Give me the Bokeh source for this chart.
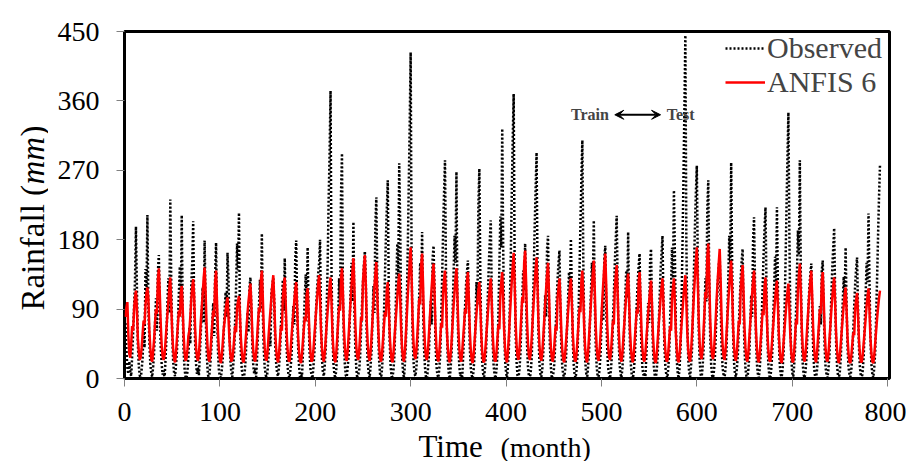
import math
from bokeh.plotting import figure
from bokeh.layouts import row, column
from bokeh.core.properties import value
from bokeh.models import (Range1d, FixedTicker, Label, Arrow, VeeHead, Legend, LegendItem)
from bokeh.embed import file_html
from bokeh.resources import INLINE

# ---------------- data (monthly rainfall, mm) ----------------
observed_mm = [
    72, 38, 14, 6, 22, 9, 3, 28, 58, 92, 126, 197,
    118, 45, 16, 4, 0, 12, 27, 63, 40, 142, 105, 212,
    96, 52, 20, 8, 2, 15, 33, 70, 104, 62, 138, 160,
    90, 41, 18, 5, 10, 0, 24, 55, 97, 130, 85, 232,
    125, 60, 22, 7, 3, 18, 36, 74, 110, 145, 98, 212,
    88, 35, 12, 2, 0, 9, 29, 66, 45, 120, 150, 204,
    102, 48, 19, 6, 14, 4, 31, 60, 85, 118, 72, 179,
    95, 40, 13, 0, 5, 20, 38, 72, 98, 55, 133, 176,
    84, 36, 10, 3, 1, 11, 26, 58, 90, 112, 80, 163,
    130, 62, 24, 8, 2, 17, 35, 76, 120, 175, 140, 215,
    80, 33, 11, 4, 0, 8, 25, 54, 86, 60, 118, 131,
    92, 44, 17, 6, 13, 2, 28, 62, 95, 128, 90, 188,
    85, 38, 14, 5, 0, 10, 30, 60, 42, 110, 122, 130,
    99, 45, 20, 7, 3, 16, 34, 68, 100, 128, 88, 156,
    87, 39, 15, 4, 1, 12, 27, 63, 94, 70, 155, 179,
    93, 42, 16, 2, 8, 0, 30, 70, 108, 135, 96, 170,
    80, 35, 12, 5, 0, 14, 32, 65, 95, 118, 135, 149,
    180, 75, 25, 8, 3, 18, 40, 90, 150, 230, 290, 373,
    140, 60, 20, 6, 0, 12, 35, 80, 130, 95, 240, 292,
    110, 50, 18, 4, 2, 15, 30, 70, 110, 150, 100, 203,
    90, 40, 14, 0, 5, 10, 28, 62, 96, 125, 148, 165,
    125, 55, 20, 7, 1, 16, 36, 78, 120, 85, 200, 235,
    130, 58, 22, 5, 0, 13, 34, 82, 130, 180, 220, 257,
    120, 50, 16, 3, 2, 11, 30, 75, 125, 175, 130, 279,
    200, 85, 28, 9, 0, 20, 45, 100, 170, 250, 330, 423,
    145, 60, 22, 6, 3, 14, 33, 72, 110, 150, 120, 190,
    92, 40, 15, 2, 0, 10, 28, 66, 100, 70, 155, 172,
    115, 48, 17, 5, 1, 12, 31, 78, 130, 190, 240, 283,
    140, 62, 23, 7, 0, 15, 36, 85, 135, 185, 150, 268,
    100, 44, 16, 3, 6, 0, 27, 60, 92, 120, 138, 153,
    98, 41, 14, 4, 0, 11, 30, 76, 125, 95, 225, 272,
    135, 58, 21, 6, 2, 14, 34, 72, 110, 150, 180, 205,
    110, 46, 16, 5, 0, 12, 32, 85, 145, 210, 170, 324,
    170, 70, 24, 8, 1, 17, 40, 95, 160, 240, 310, 369,
    150, 62, 22, 4, 0, 11, 30, 68, 105, 140, 115, 175,
    105, 44, 15, 3, 0, 10, 29, 80, 135, 195, 245, 293,
    140, 60, 20, 6, 2, 13, 32, 70, 108, 80, 168, 185,
    95, 42, 15, 0, 4, 9, 28, 64, 98, 128, 150, 166,
    90, 40, 14, 5, 0, 12, 30, 67, 102, 138, 110, 181,
    110, 48, 17, 4, 1, 13, 33, 84, 140, 200, 260, 309,
    150, 64, 23, 7, 0, 15, 34, 74, 112, 150, 125, 205,
    100, 44, 16, 3, 2, 11, 30, 66, 100, 75, 155, 172,
    92, 40, 14, 5, 0, 12, 31, 70, 108, 148, 180, 211,
    120, 52, 19, 6, 1, 14, 33, 71, 106, 140, 105, 190,
    96, 42, 15, 2, 0, 10, 28, 63, 96, 125, 145, 162,
    85, 38, 13, 4, 7, 0, 27, 64, 98, 72, 150, 168,
    92, 40, 15, 3, 0, 11, 30, 68, 104, 140, 162, 185,
    100, 44, 16, 5, 1, 12, 32, 76, 120, 170, 130, 244,
    160, 68, 23, 7, 0, 16, 42, 100, 175, 260, 350, 445,
    180, 75, 26, 8, 2, 17, 38, 88, 140, 195, 240, 276,
    150, 65, 22, 6, 0, 14, 35, 82, 130, 100, 220, 257,
    130, 55, 19, 4, 1, 10, 28, 62, 96, 125, 145, 160,
    95, 40, 14, 5, 0, 12, 32, 80, 130, 185, 150, 280,
    150, 62, 21, 6, 2, 13, 30, 66, 100, 130, 152, 168,
    90, 38, 13, 3, 0, 11, 29, 70, 108, 80, 180, 209,
    125, 54, 19, 6, 1, 14, 34, 76, 118, 160, 195, 222,
    120, 52, 18, 4, 0, 12, 31, 74, 115, 158, 120, 222,
    118, 50, 17, 5, 2, 13, 34, 88, 150, 220, 285, 345,
    190, 80, 27, 8, 0, 16, 38, 86, 138, 192, 160, 283,
    140, 58, 20, 5, 1, 10, 27, 60, 92, 118, 135, 149,
    88, 38, 13, 3, 0, 11, 28, 62, 94, 70, 140, 153,
    92, 40, 14, 5, 1, 12, 30, 68, 105, 142, 170, 195,
    110, 48, 17, 4, 0, 10, 28, 65, 100, 132, 105, 170,
    95, 42, 15, 6, 2, 12, 29, 62, 95, 122, 142, 157,
    90, 40, 14, 3, 0, 11, 30, 70, 110, 150, 125, 214,
    125, 54, 19, 6, 1, 14, 34, 80, 130, 185, 235, 276,
]

anfis6_mm = [
    80, 92, 99, 58, 32, 27, 44, 68, 62, 88, 105, 114,
    90, 52, 35, 24, 28, 40, 58, 75, 70, 95, 110, 118,
    105, 64, 40, 26, 22, 35, 50, 72, 90, 84, 128, 143,
    110, 70, 42, 28, 24, 30, 48, 66, 84, 100, 118, 131,
    95, 60, 38, 25, 21, 33, 52, 70, 88, 80, 110, 120,
    92, 56, 34, 23, 26, 38, 55, 62, 80, 102, 118, 129,
    108, 66, 40, 27, 23, 32, 50, 74, 92, 110, 130, 144,
    112, 70, 42, 26, 22, 34, 52, 70, 88, 80, 125, 140,
    98, 60, 36, 24, 20, 30, 46, 64, 75, 88, 98, 105,
    80, 50, 32, 22, 25, 36, 52, 68, 60, 92, 100, 107,
    85, 52, 33, 23, 21, 34, 50, 66, 85, 100, 112, 123,
    95, 58, 36, 25, 22, 33, 52, 74, 92, 86, 128, 140,
    105, 64, 40, 26, 23, 35, 54, 72, 88, 105, 122, 134,
    100, 60, 38, 25, 21, 32, 50, 68, 62, 104, 120, 131,
    98, 58, 36, 24, 22, 34, 52, 70, 84, 100, 115, 125,
    92, 55, 34, 23, 20, 31, 48, 64, 80, 74, 108, 117,
    88, 54, 33, 22, 24, 36, 54, 72, 90, 106, 122, 134,
    104, 62, 39, 26, 22, 34, 52, 70, 88, 104, 120, 131,
    100, 60, 37, 25, 21, 33, 52, 74, 94, 88, 130, 143,
    110, 66, 40, 27, 23, 36, 56, 78, 100, 120, 140, 156,
    118, 70, 42, 28, 24, 35, 55, 80, 75, 125, 145, 160,
    120, 72, 44, 28, 23, 34, 54, 76, 98, 118, 136, 151,
    110, 66, 40, 26, 22, 32, 50, 68, 86, 80, 115, 125,
    95, 58, 36, 24, 21, 33, 52, 70, 88, 106, 124, 136,
    105, 64, 39, 26, 22, 36, 58, 82, 108, 130, 152, 170,
    130, 78, 46, 30, 25, 36, 56, 80, 104, 96, 146, 162,
    122, 72, 43, 28, 24, 34, 54, 76, 98, 118, 136, 149,
    112, 68, 41, 27, 22, 33, 52, 72, 66, 110, 128, 140,
    105, 63, 38, 25, 21, 32, 50, 72, 94, 112, 130, 143,
    108, 64, 39, 26, 22, 34, 52, 70, 90, 84, 125, 138,
    104, 62, 37, 24, 20, 31, 48, 66, 84, 100, 115, 125,
    95, 57, 35, 23, 21, 33, 50, 68, 86, 104, 118, 130,
    98, 58, 36, 24, 22, 34, 52, 70, 64, 108, 125, 138,
    104, 62, 38, 25, 21, 35, 56, 80, 104, 126, 146, 163,
    125, 74, 44, 29, 24, 36, 57, 82, 106, 98, 150, 166,
    126, 75, 45, 29, 24, 35, 55, 78, 100, 122, 142, 157,
    120, 71, 43, 28, 23, 34, 53, 75, 96, 116, 135, 150,
    112, 67, 40, 26, 22, 32, 50, 68, 62, 104, 118, 130,
    98, 59, 36, 24, 21, 33, 50, 68, 86, 104, 118, 130,
    98, 58, 36, 24, 22, 34, 52, 72, 92, 86, 127, 140,
    105, 63, 38, 25, 21, 34, 54, 76, 98, 118, 137, 153,
    115, 68, 41, 27, 23, 35, 56, 80, 104, 125, 146, 162,
    122, 72, 43, 28, 24, 34, 54, 75, 70, 115, 133, 147,
    110, 66, 40, 26, 22, 33, 52, 72, 90, 108, 124, 136,
    102, 61, 37, 25, 21, 33, 51, 70, 90, 84, 125, 138,
    104, 62, 38, 25, 22, 32, 49, 67, 85, 100, 115, 127,
    95, 57, 35, 23, 20, 32, 50, 68, 86, 104, 118, 130,
    98, 58, 36, 24, 22, 33, 50, 68, 62, 104, 118, 130,
    98, 59, 36, 24, 21, 33, 51, 70, 88, 106, 122, 134,
    100, 60, 37, 25, 22, 36, 58, 84, 110, 132, 152, 170,
    128, 76, 45, 30, 25, 37, 60, 86, 112, 104, 158, 175,
    132, 78, 46, 30, 25, 36, 58, 82, 108, 130, 150, 168,
    126, 75, 44, 29, 24, 35, 55, 78, 100, 120, 138, 153,
    115, 68, 41, 27, 23, 34, 53, 75, 70, 115, 133, 147,
    110, 66, 40, 26, 22, 33, 52, 72, 92, 110, 127, 140,
    105, 63, 38, 25, 21, 32, 50, 68, 88, 82, 120, 131,
    98, 59, 36, 24, 22, 33, 50, 67, 85, 102, 116, 127,
    95, 57, 35, 23, 20, 31, 48, 65, 82, 98, 112, 123,
    92, 56, 34, 23, 21, 34, 54, 76, 70, 116, 134, 149,
    112, 67, 40, 26, 22, 33, 52, 72, 92, 110, 127, 140,
    105, 63, 38, 25, 21, 33, 51, 70, 90, 84, 125, 138,
    104, 62, 38, 25, 22, 32, 50, 68, 88, 105, 120, 131,
    98, 59, 36, 24, 20, 31, 47, 63, 80, 95, 108, 118,
    88, 53, 33, 22, 20, 30, 45, 60, 56, 90, 102, 111,
    83, 50, 31, 21, 22, 32, 47, 62, 78, 94, 107, 117,
    88, 53, 33, 22, 20, 30, 46, 62, 78, 92, 104, 114,
]

months = list(range(1, len(observed_mm) + 1))
x_ticks = [0, 100, 200, 300, 400, 500, 600, 700, 800]
y_ticks = [0, 90, 180, 270, 360, 450]

SERIF = "Liberation Serif"

# ---------------- main chart ----------------
p = figure(width=858, height=434, output_backend="svg", toolbar_location=None,
           x_range=Range1d(0, 802), y_range=Range1d(0, 450),
           min_border_left=76, min_border_right=17, min_border_top=31, min_border_bottom=56)
p.background_fill_color = "white"
p.border_fill_color = "white"
p.outline_line_color = "black"
p.outline_line_width = 3
p.grid.visible = False

for ax, ticks in ((p.xaxis[0], x_ticks), (p.yaxis[0], y_ticks)):
    ax.ticker = FixedTicker(ticks=ticks)
    ax.axis_line_color = None
    ax.major_tick_line_color = "#808080"
    ax.major_tick_line_width = 1
    ax.major_tick_out = 8
    ax.major_tick_in = 0
    ax.minor_tick_line_color = None
    ax.major_label_text_font = SERIF
    ax.major_label_text_font_size = "28px"
    ax.major_label_text_color = "black"
p.yaxis[0].major_label_standoff = 17
p.xaxis[0].major_label_standoff = 16

r_obs = p.line(months, observed_mm, line_color="black", line_width=2.5, line_dash="2 2")
r_anf = p.line(months, anfis6_mm, line_color="#ff0000", line_width=2.5)

legend = Legend(items=[LegendItem(label="Observed", renderers=[r_obs]),
                       LegendItem(label="ANFIS 6", renderers=[r_anf])],
                location=(601, 279), margin=0, padding=0, spacing=0,
                glyph_width=40, glyph_height=28, label_height=28, label_standoff=2,
                label_text_font=SERIF, label_text_font_size="30px",
                border_line_alpha=0, background_fill_alpha=0)
p.add_layout(legend)

# Train <-> Test annotation
p.add_layout(Arrow(start=VeeHead(size=9, fill_color="black", line_color="black"),
                   end=VeeHead(size=9, fill_color="black", line_color="black"),
                   x_start=514, y_start=342, x_end=562, y_end=342,
                   line_color="black", line_width=2))
p.add_layout(Label(x=488, y=342, text="Train", text_font=SERIF, text_font_style="bold",
                   text_font_size="16px", text_align="center", text_baseline="middle"))
p.add_layout(Label(x=583, y=342, text="Test", text_font=SERIF, text_font_style="bold",
                   text_font_size="16px", text_align="center", text_baseline="middle"))

# ---------------- axis-title strips (pixel coordinates) ----------------
def strip(w, h, xr):
    f = figure(width=w, height=h, output_backend="svg", toolbar_location=None,
               title=None, x_range=Range1d(0, xr), y_range=Range1d(0, h),
               x_axis_type=None, y_axis_type=None, min_border=0)
    f.outline_line_color = None
    f.grid.visible = False
    f.background_fill_color = "white"
    f.border_fill_color = "white"
    return f

# the strip's frame is aligned with the chart frame (765 px wide, starting at x=124)
xfig = strip(858, 27, 765)
xfig.text(x=[294], y=[15.5], text=["Time"], text_font=value(SERIF), text_font_size="31px",
          text_align="left", text_baseline="middle", text_color="black")
xfig.text(x=[376], y=[14], text=["(month)"], text_font=value(SERIF), text_font_size="28px",
          text_align="left", text_baseline="middle", text_color="black")

yfig = strip(48, 461, 48)
yfig.text(x=[32], y=[151], text=["Rainfall ("], text_font=value(SERIF), text_font_size="33px",
          angle=math.pi / 2, text_align="left", text_baseline="middle", text_color="black")
yfig.text(x=[32], y=[277], text=["mm"], text_font=value(SERIF), text_font_size="33px",
          text_font_style="italic", angle=math.pi / 2, text_align="left",
          text_baseline="middle", text_color="black")
yfig.text(x=[32], y=[325], text=[")"], text_font=value(SERIF), text_font_size="33px",
          angle=math.pi / 2, text_align="left", text_baseline="middle", text_color="black")

layout = row(yfig, column(p, xfig, spacing=0), spacing=0)

open("out.html", "w").write(file_html(layout, INLINE))
